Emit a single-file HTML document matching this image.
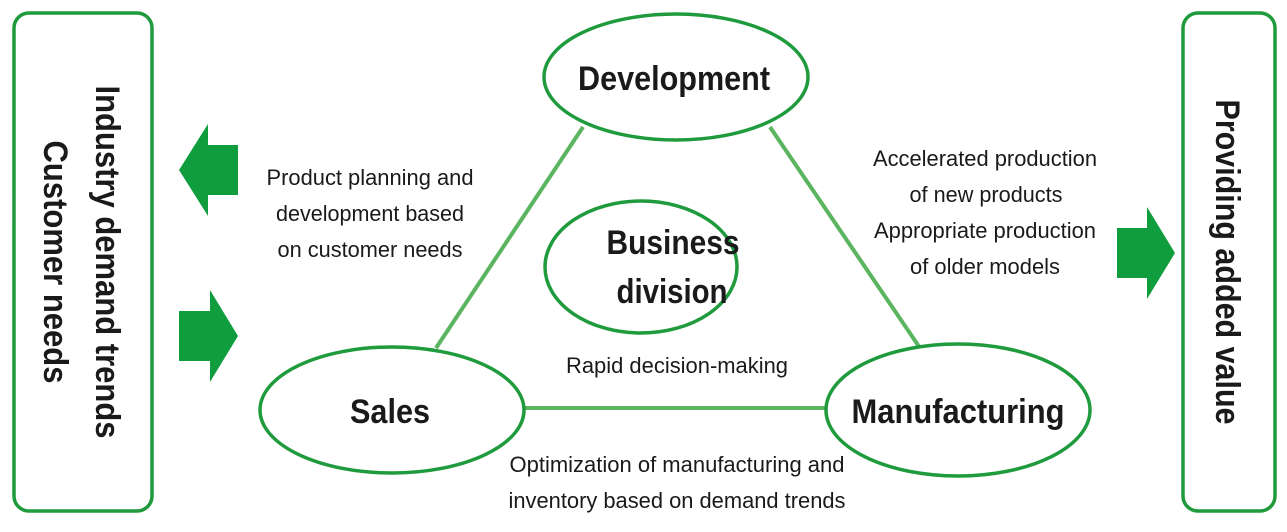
<!DOCTYPE html>
<html><head><meta charset="utf-8"><style>
body{margin:0;background:#fff;}
svg text{font-family:"Liberation Sans Narrow","Liberation Sans",sans-serif;fill:#1a1a1a;}
.b{font-weight:bold;font-size:34px;}
.s{font-size:22px;}
</style></head><body>
<svg width="1287" height="527" viewBox="0 0 1287 527">
<rect x="14" y="13" width="138" height="498" rx="15" fill="none" stroke="#1f9a3c" stroke-width="3.5"/>
<rect x="1183" y="13" width="92" height="498" rx="15" fill="none" stroke="#1f9a3c" stroke-width="3.5"/>
<text class="b" transform="translate(96,262) rotate(90)" text-anchor="middle" textLength="353" lengthAdjust="spacingAndGlyphs">Industry demand trends</text>
<text class="b" transform="translate(44,262) rotate(90)" text-anchor="middle" textLength="243" lengthAdjust="spacingAndGlyphs">Customer needs</text>
<text class="b" transform="translate(1216,262) rotate(90)" text-anchor="middle" textLength="325" lengthAdjust="spacingAndGlyphs">Providing added value</text>
<polygon points="179,170 208,124 208,145 238,145 238,195 208,195 208,216" fill="#0f9d3e"/>
<polygon points="179,311 210,311 210,290 238,336 210,382 210,361 179,361" fill="#0f9d3e"/>
<polygon points="1117,228 1147,228 1147,207 1175,253 1147,299 1147,278 1117,278" fill="#0f9d3e"/>
<g stroke="#5ab55e" stroke-width="4">
<line x1="583" y1="127" x2="436" y2="348"/>
<line x1="770" y1="127" x2="920" y2="348"/>
<line x1="524" y1="408" x2="827" y2="408"/>
</g>
<g fill="#fff" stroke="#1f9a3c" stroke-width="3.5">
<ellipse cx="676" cy="77" rx="132" ry="63"/>
<ellipse cx="641" cy="267" rx="96" ry="66"/>
<ellipse cx="392" cy="410" rx="132" ry="63"/>
<ellipse cx="958" cy="410" rx="132" ry="66"/>
</g>
<text class="b" x="674" y="90" text-anchor="middle" textLength="192" lengthAdjust="spacingAndGlyphs">Development</text>
<text class="b" x="673" y="254" text-anchor="middle" textLength="133" lengthAdjust="spacingAndGlyphs">Business</text>
<text class="b" x="672" y="303" text-anchor="middle" textLength="111" lengthAdjust="spacingAndGlyphs">division</text>
<text class="b" x="390" y="423" text-anchor="middle" textLength="80" lengthAdjust="spacingAndGlyphs">Sales</text>
<text class="b" x="958" y="423" text-anchor="middle" textLength="213" lengthAdjust="spacingAndGlyphs">Manufacturing</text>
<g class="s" text-anchor="middle">
<text x="370" y="185" textLength="207" lengthAdjust="spacingAndGlyphs">Product planning and</text>
<text x="370" y="221" textLength="188" lengthAdjust="spacingAndGlyphs">development based</text>
<text x="370" y="257" textLength="185" lengthAdjust="spacingAndGlyphs">on customer needs</text>
<text x="985" y="166" textLength="224" lengthAdjust="spacingAndGlyphs">Accelerated production</text>
<text x="986" y="202" textLength="153" lengthAdjust="spacingAndGlyphs">of new products</text>
<text x="985" y="238" textLength="222" lengthAdjust="spacingAndGlyphs">Appropriate production</text>
<text x="985" y="274" textLength="150" lengthAdjust="spacingAndGlyphs">of older models</text>
<text x="677" y="373" textLength="222" lengthAdjust="spacingAndGlyphs">Rapid decision-making</text>
<text x="677" y="472" textLength="335" lengthAdjust="spacingAndGlyphs">Optimization of manufacturing and</text>
<text x="677" y="508" textLength="337" lengthAdjust="spacingAndGlyphs">inventory based on demand trends</text>
</g>
</svg>
</body></html>
